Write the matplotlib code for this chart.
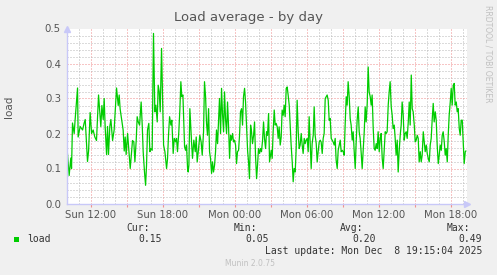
import matplotlib
matplotlib.use("Agg")
import matplotlib.pyplot as plt
from matplotlib.ticker import MultipleLocator, FuncFormatter

# ---- data (hours since Sun 00:00, load values) ----
hours = [9.95, 10.22, 10.36, 10.42, 10.50, 10.64, 10.72, 10.92, 10.97, 11.14, 11.34, 11.47, 11.56, 11.75, 11.84,
         11.97, 12.09, 12.22, 12.36, 12.50, 12.67, 12.78, 12.86, 12.95, 13.06, 13.14, 13.22, 13.34, 13.42, 13.50,
         13.61, 13.70, 13.84, 13.97, 14.17, 14.31, 14.39, 14.47, 14.72, 14.81, 14.89, 14.97, 15.09, 15.31, 15.50,
         15.61, 15.70, 15.81, 15.89, 15.98, 16.09, 16.22, 16.31, 16.39, 16.50, 16.59, 16.67, 16.75, 16.86, 16.95,
         17.03, 17.14, 17.25, 17.36, 17.45, 17.56, 17.64, 17.73, 17.81, 17.92, 18.00, 18.09, 18.20, 18.34, 18.42,
         18.50, 18.59, 18.70, 18.78, 18.89, 18.98, 19.09, 19.17, 19.25, 19.36, 19.45, 19.53, 19.61, 19.70, 19.84,
         19.92, 20.00, 20.09, 20.14, 20.20, 20.28, 20.42, 20.50, 20.61, 20.73, 20.81, 20.89, 20.98, 21.11, 21.22,
         21.31, 21.42, 21.50, 21.59, 21.67, 21.75, 21.84, 21.92, 22.00, 22.09, 22.17, 22.25, 22.34, 22.42, 22.50,
         22.59, 22.67, 22.75, 22.84, 22.92, 23.00, 23.09, 23.17, 23.25, 23.34, 23.42, 23.50, 23.59, 23.67, 23.75,
         23.84, 23.92, 24.00, 24.09, 24.17, 24.25, 24.34, 24.42, 24.50, 24.59, 24.67, 24.75, 24.84, 24.92, 25.00,
         25.09, 25.17, 25.25, 25.34, 25.42, 25.50, 25.59, 25.67, 25.75, 25.84, 25.92, 26.00, 26.09, 26.17, 26.25,
         26.34, 26.42, 26.50, 26.59, 26.67, 26.75, 26.84, 26.92, 27.06, 27.14, 27.22, 27.31, 27.39, 27.47, 27.56,
         27.64, 27.72, 27.81, 27.89, 27.97, 28.06, 28.14, 28.22, 28.31, 28.39, 28.47, 28.56, 28.64, 28.72, 28.81,
         28.89, 28.97, 29.06, 29.14, 29.22, 29.31, 29.39, 29.47, 29.56, 29.64, 29.72, 29.81, 29.89, 29.97, 30.06,
         30.14, 30.22, 30.31, 30.39, 30.47, 30.56, 30.64, 30.72, 30.81, 30.89, 30.97, 31.06, 31.14, 31.22, 31.31,
         31.39, 31.47, 31.56, 31.64, 31.72, 31.81, 31.89, 31.97, 32.06, 32.14, 32.22, 32.31, 32.39, 32.47, 32.56,
         32.64, 32.81, 32.89, 32.97, 33.06, 33.14, 33.22, 33.31, 33.39, 33.47, 33.56, 33.64, 33.72, 33.81, 33.89,
         33.97, 34.06, 34.14, 34.22, 34.31, 34.39, 34.47, 34.56, 34.64, 34.72, 34.81, 34.89, 34.97, 35.06, 35.14,
         35.22, 35.31, 35.39, 35.47, 35.56, 35.64, 35.72, 35.81, 35.89, 35.97, 36.06, 36.14, 36.22, 36.31, 36.39,
         36.47, 36.56, 36.64, 36.72, 36.81, 36.89, 36.97, 37.06, 37.14, 37.22, 37.31, 37.39, 37.47, 37.56, 37.64,
         37.72, 37.81, 37.89, 37.97, 38.06, 38.14, 38.22, 38.31, 38.39, 38.48, 38.56, 38.64, 38.73, 38.81, 38.89,
         38.98, 39.06, 39.14, 39.23, 39.31, 39.39, 39.48, 39.56, 39.64, 39.73, 39.81, 39.89, 39.98, 40.06, 40.14,
         40.23, 40.31, 40.39, 40.48, 40.56, 40.64, 40.73, 40.81, 40.89, 40.98, 41.06, 41.14, 41.23, 41.31, 41.39,
         41.48, 41.56, 41.64, 41.73, 41.81, 41.89, 41.98, 42.06, 42.14, 42.23, 42.31, 42.39, 42.48, 42.56, 42.64,
         42.73, 42.81, 42.89, 42.98, 43.06, 43.14, 43.23, 43.28]

load = [0.20, 0.08, 0.13, 0.10, 0.23, 0.20, 0.24, 0.33, 0.19, 0.22, 0.21, 0.23, 0.24, 0.12, 0.15,
        0.26, 0.20, 0.21, 0.19, 0.18, 0.31, 0.26, 0.22, 0.28, 0.24, 0.30, 0.22, 0.14, 0.22, 0.14,
        0.22, 0.24, 0.18, 0.21, 0.33, 0.28, 0.31, 0.27, 0.21, 0.15, 0.19, 0.14, 0.20, 0.10, 0.18,
        0.176, 0.119, 0.181, 0.248, 0.233, 0.224, 0.29, 0.224, 0.148, 0.09, 0.052, 0.11, 0.21, 0.229, 0.148,
        0.157, 0.152, 0.486, 0.262, 0.281, 0.233, 0.338, 0.319, 0.262, 0.443, 0.319, 0.167, 0.148, 0.10, 0.129,
        0.195, 0.248, 0.224, 0.238, 0.143, 0.186, 0.176, 0.186, 0.148, 0.205, 0.271, 0.348, 0.305, 0.31, 0.162,
        0.152, 0.167, 0.10, 0.09, 0.11, 0.271, 0.176, 0.129, 0.181, 0.148, 0.19, 0.119, 0.148, 0.195, 0.176,
        0.138, 0.205, 0.348, 0.305, 0.229, 0.195, 0.271, 0.148, 0.129, 0.086, 0.119, 0.09, 0.11, 0.148, 0.21,
        0.171, 0.233, 0.30, 0.20, 0.329, 0.257, 0.205, 0.319, 0.243, 0.20, 0.29, 0.224, 0.129, 0.195, 0.181,
        0.20, 0.176, 0.181, 0.167, 0.114, 0.148, 0.152, 0.195, 0.262, 0.271, 0.224, 0.305, 0.329, 0.29, 0.224,
        0.152, 0.119, 0.071, 0.224, 0.205, 0.171, 0.195, 0.233, 0.138, 0.071, 0.11, 0.157, 0.143, 0.157, 0.148,
        0.181, 0.233, 0.186, 0.157, 0.205, 0.195, 0.257, 0.119, 0.152, 0.129, 0.205, 0.267, 0.224, 0.229, 0.219,
        0.186, 0.219, 0.167, 0.19, 0.267, 0.252, 0.281, 0.248, 0.329, 0.333, 0.31, 0.281, 0.224, 0.167, 0.119,
        0.062, 0.10, 0.09, 0.157, 0.295, 0.205, 0.157, 0.167, 0.20, 0.167, 0.143, 0.186, 0.171, 0.181, 0.186,
        0.148, 0.248, 0.167, 0.10, 0.171, 0.195, 0.276, 0.195, 0.171, 0.119, 0.148, 0.176, 0.181, 0.176, 0.143,
        0.186, 0.20, 0.30, 0.305, 0.31, 0.295, 0.238, 0.243, 0.186, 0.181, 0.176, 0.167, 0.186, 0.124, 0.10,
        0.152, 0.181, 0.148, 0.152, 0.148, 0.138, 0.224, 0.305, 0.281, 0.348, 0.305, 0.243, 0.224, 0.181, 0.205,
        0.152, 0.10, 0.176, 0.238, 0.276, 0.205, 0.186, 0.143, 0.10, 0.152, 0.205, 0.276, 0.233, 0.286, 0.39,
        0.319, 0.305, 0.281, 0.31, 0.214, 0.157, 0.152, 0.171, 0.157, 0.205, 0.148, 0.186, 0.20, 0.129, 0.10,
        0.152, 0.205, 0.20, 0.205, 0.281, 0.319, 0.348, 0.276, 0.252, 0.214, 0.224, 0.186, 0.138, 0.181, 0.09,
        0.148, 0.195, 0.224, 0.29, 0.252, 0.181, 0.20, 0.205, 0.186, 0.233, 0.29, 0.224, 0.367, 0.271, 0.262,
        0.224, 0.176, 0.181, 0.195, 0.186, 0.119, 0.148, 0.119, 0.138, 0.205, 0.176, 0.148, 0.167, 0.143, 0.129,
        0.119, 0.167, 0.186, 0.243, 0.286, 0.233, 0.262, 0.238, 0.167, 0.114, 0.138, 0.167, 0.152, 0.195, 0.205,
        0.176, 0.138, 0.157, 0.119, 0.195, 0.252, 0.29, 0.329, 0.281, 0.338, 0.343, 0.281, 0.29, 0.262, 0.271,
        0.214, 0.195, 0.238, 0.238, 0.176, 0.114, 0.148, 0.15]

tick_hours = [12, 18, 24, 30, 36, 42]
tick_labels = ["Sun 12:00", "Sun 18:00", "Mon 00:00", "Mon 06:00", "Mon 12:00", "Mon 18:00"]

legend_cols = ["Cur:", "Min:", "Avg:", "Max:"]
legend_vals = ["0.15", "0.05", "0.20", "0.49"]

# ---- figure ----
W, H = 497, 275
fig = plt.figure(figsize=(W / 100, H / 100), dpi=100, facecolor="#f0f0f0")
x0, x1, ytop, ybot = 66.5, 467.0, 28.5, 203.5
ax = fig.add_axes([x0 / W, 1 - ybot / H, (x1 - x0) / W, (ybot - ytop) / H])
ax.set_facecolor("white")

ax.set_xlim(10.0, 10.0 + (x1 - x0) / 12.0)
ax.set_ylim(0, 0.5)

# grid
ax.xaxis.set_major_locator(MultipleLocator(3))
ax.xaxis.set_minor_locator(MultipleLocator(1))
ax.yaxis.set_major_locator(MultipleLocator(0.1))
ax.yaxis.set_minor_locator(MultipleLocator(0.02))
ax.grid(which="minor", color="#b8b8b8", linestyle=(0, (1, 2)), linewidth=0.72)
ax.grid(which="major", color="#f08c8c", linestyle=(0, (1, 2)), linewidth=0.72)
ax.set_axisbelow(True)

lab_map = dict(zip(tick_hours, tick_labels))
ax.xaxis.set_major_formatter(FuncFormatter(lambda v, p: lab_map.get(int(round(v)), "") if abs(v - round(v)) < 1e-6 else ""))
ax.yaxis.set_major_formatter(FuncFormatter(lambda v, p: f"{v:.1f}"))

ax.tick_params(axis="both", which="both", length=0, labelsize=7.3, labelcolor="#555555", pad=4)
ax.tick_params(axis="x", which="major", length=2, color="#f09090", direction="out", pad=3)

for s in ["top", "right"]:
    ax.spines[s].set_visible(False)
for s in ["left", "bottom"]:
    ax.spines[s].set_color("#c8c8f8")
    ax.spines[s].set_linewidth(1.0)

# arrows
ax.plot([0], [1.0], marker="^", markersize=4, color="#c8c8f8", transform=ax.transAxes, clip_on=False)
ax.plot([1.0], [0], marker=">", markersize=4, color="#c8c8f8", transform=ax.transAxes, clip_on=False)

ax.plot(hours, load, color="#00cc00", linewidth=0.9)

# texts
fig.text(248 / W, 1 - 18 / H, "Load average - by day", ha="center", va="center", fontsize=9.5, color="#555555")
fig.text(9 / W, 1 - 107 / H, "load", ha="center", va="center", rotation=90, fontsize=7.5, color="#555555")
fig.text(488 / W, 1 - 5 / H, "RRDTOOL / TOBI OETIKER", ha="center", va="top", rotation=270,
         fontsize=5.5, color="#c0c0c0")

mono = "DejaVu Sans Mono"
fs = 7.0
fig.patches.append(plt.Rectangle((14 / W, 1 - 242 / H), 5 / W, 5 / H, transform=fig.transFigure,
                                 facecolor="#00cc00", edgecolor="none"))
fig.text(27 / W, 1 - 239.5 / H, "load", ha="left", va="center", family=mono, fontsize=fs, color="#333333")
col_x_head = [150, 257, 363, 470]
col_x_val = [162, 269, 376, 482]
for hx, vx, h, v in zip(col_x_head, col_x_val, legend_cols, legend_vals):
    fig.text(hx / W, 1 - 228 / H, h, ha="right", va="center", family=mono, fontsize=fs, color="#333333")
    fig.text(vx / W, 1 - 239.5 / H, v, ha="right", va="center", family=mono, fontsize=fs, color="#333333")
fig.text(482 / W, 1 - 251.5 / H, "Last update: Mon Dec  8 19:15:04 2025", ha="right", va="center",
         family=mono, fontsize=fs, color="#333333")
fig.text(250 / W, 1 - 264 / H, "Munin 2.0.75", ha="center", va="center", fontsize=5.5, color="#c0c0c0")

fig.savefig("out.png", dpi=100, facecolor=fig.get_facecolor())
